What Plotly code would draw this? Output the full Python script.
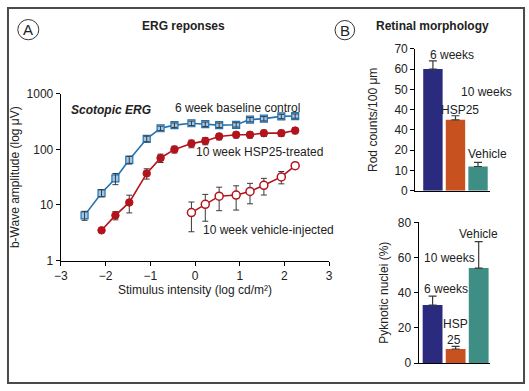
import plotly.graph_objects as go

W, H = 529, 391

# ---------- Panel A data (ERG responses) ----------
stim = [-2.47, -2.09, -1.78, -1.47, -1.08, -0.77, -0.46, -0.08, 0.23, 0.54, 0.92, 1.23, 1.54, 1.93, 2.24]
baseline = [6.5, 16.4, 30, 65, 155, 240, 273, 295, 284, 273, 277, 343, 357, 392, 398]
baseline_err = [1.2, 2.4, 6.8, 10.6, 17.5, 22, 25, 27, 26, 25, 25, 30, 32, 35, 35]
hsp_x = stim[1:]
hsp = [3.5, 6.5, 11.1, 37, 70, 100, 127, 142, 171, 183, 183, 196, 196, 218]
hsp_err = [0, 1.1, 3.9, 7.8, 12, 14, 20, 21, 23, 22, 23, 25, 25, 27]
veh_x = stim[7:]
vehicle = [7.3, 10.3, 14.4, 15.1, 17.5, 22.6, 32, 51]
vehicle_err = [4, 5.2, 6.5, 7, 7, 7.5, 8, 6]
x_ticks = [-3, -2, -1, 0, 1, 2, 3]
y_ticks = [1, 10, 100, 1000]
y_ticktext = ["1", "10", "100", "1000"]

# ---------- Panel B data (retinal morphology) ----------
groups = ["6 weeks", "HSP25", "Vehicle"]
rod_counts = [60, 35, 12]
rod_err = [4, 2, 2]
rod_ticks = [0, 10, 20, 30, 40, 50, 60, 70]
rod_ticktext = ["0", "10", "20", "40", "40", "50", "60", "70"]
pyknotic = [33, 8, 54]
pyk_err = [5, 1.5, 15]
pyk_ticks = [0, 20, 40, 60, 80]

bar_colors = ["#2a2a7e", "#c8521f", "#3f8e85"]
BLUE = "#2172b3"
BLUE_FILL = "#a3c6e4"
RED = "#b3141c"
ERR = "#3a3a3a"
FONT = "Liberation Sans, Arial, Helvetica, sans-serif"


def px(x):
    return x / W


def py(y):
    return 1 - y / H


fig = go.Figure()

# baseline control (blue squares)
fig.add_trace(go.Scatter(
    x=stim, y=baseline, mode="lines+markers",
    line=dict(color=BLUE, width=1.6),
    marker=dict(symbol="square", size=7, color=BLUE_FILL, line=dict(color=BLUE, width=1.2)),
    xaxis="x", yaxis="y", showlegend=False))
fig.add_trace(go.Scatter(
    x=stim, y=baseline, mode="markers",
    marker=dict(size=1, opacity=0),
    error_y=dict(type="data", array=baseline_err, color=ERR, thickness=1, width=3),
    xaxis="x", yaxis="y", showlegend=False))

# HSP25-treated (filled red circles)
fig.add_trace(go.Scatter(
    x=hsp_x, y=hsp, mode="lines+markers",
    line=dict(color=RED, width=1.6),
    marker=dict(symbol="circle", size=7.5, color=RED, line=dict(color=RED, width=1)),
    error_y=dict(type="data", array=hsp_err, color=ERR, thickness=1, width=3),
    xaxis="x", yaxis="y", showlegend=False))

# vehicle-injected (open red circles)
fig.add_trace(go.Scatter(
    x=veh_x, y=vehicle, mode="lines+markers",
    line=dict(color=RED, width=1.6),
    marker=dict(symbol="circle", size=8, color="white", line=dict(color=RED, width=1.5)),
    error_y=dict(type="data", array=vehicle_err, color=ERR, thickness=1, width=3),
    xaxis="x", yaxis="y", showlegend=False))

# Rod counts bars
fig.add_trace(go.Bar(
    x=groups, y=rod_counts, marker=dict(color=bar_colors, line=dict(width=0)),
    error_y=dict(type="data", symmetric=False, array=rod_err, arrayminus=[0, 0, 0],
                 color=ERR, thickness=1.2, width=4),
    xaxis="x2", yaxis="y2", showlegend=False))

# Pyknotic nuclei bars
fig.add_trace(go.Bar(
    x=groups, y=pyknotic, marker=dict(color=bar_colors, line=dict(width=0)),
    error_y=dict(type="data", symmetric=False, array=pyk_err, arrayminus=[0, 0, 0],
                 color=ERR, thickness=1.2, width=4),
    xaxis="x3", yaxis="y3", showlegend=False))

axis_common = dict(showline=True, linecolor="black", linewidth=1.3, ticks="outside",
                   ticklen=4, tickwidth=1, tickcolor="black", showgrid=False, zeroline=False,
                   tickfont=dict(size=12, color="#222", family=FONT))
xbar_common = dict(showline=True, linecolor="black", linewidth=1.3, ticks="",
                   showgrid=False, zeroline=False, showticklabels=False)

fig.update_layout(
    width=W, height=H, autosize=False,
    margin=dict(l=0, r=0, t=0, b=0),
    paper_bgcolor="white", plot_bgcolor="white",
    font=dict(family=FONT, size=12, color="#222"),
    bargap=0.14,
    xaxis=dict(domain=[px(55), px(329)], range=[-3, 3], tickvals=x_ticks,
               anchor="y",
               title=dict(text="Stimulus intensity (log cd/m²)", standoff=2,
                          font=dict(size=12)),
               **axis_common),
    yaxis=dict(domain=[py(263), py(90)], type="log", range=[0, 3], tickvals=y_ticks,
               ticktext=y_ticktext, anchor="x",
               title=dict(text="b-Wave amplitude (log μV)", standoff=4, font=dict(size=12)),
               **axis_common),
    xaxis2=dict(domain=[px(417), px(493)], range=[-0.78, 2.52], anchor="y2", **xbar_common),
    yaxis2=dict(domain=[py(190.7), py(43.3)], range=[0, 70], tickvals=rod_ticks,
                ticktext=rod_ticktext, anchor="x2",
                title=dict(text="Rod counts/100 μm", standoff=14, font=dict(size=12)),
                **axis_common),
    xaxis3=dict(domain=[px(420.5), px(493)], range=[-0.6, 2.48], anchor="y3", **xbar_common),
    yaxis3=dict(domain=[py(369.3), py(223.3)], range=[0, 80], tickvals=pyk_ticks,
                anchor="x3",
                title=dict(text="Pyknotic nuclei (%)", standoff=6, font=dict(size=12)),
                **axis_common),
)

annotations = [
    # titles
    dict(text="<b>ERG reponses</b>", x=px(180), y=py(20), xanchor="center", font=dict(size=12)),
    dict(text="<b>Retinal morphology</b>", x=px(375), y=py(20), xanchor="left", font=dict(size=12)),
    dict(text="A", x=px(21.7), y=py(23.5), xanchor="center", font=dict(size=15)),
    dict(text="B", x=px(345), y=py(24), xanchor="center", font=dict(size=15)),
    # panel A labels
    dict(text="<b><i>Scotopic ERG</i></b>", x=px(63), y=py(107), xanchor="left", font=dict(size=12)),
    dict(text="6 week baseline control", x=px(170), y=py(105), xanchor="left", font=dict(size=12)),
    dict(text="10 week HSP25-treated", x=px(191), y=py(150), xanchor="left", font=dict(size=12)),
    dict(text="10 week vehicle-injected", x=px(198), y=py(231), xanchor="left", font=dict(size=12)),
    # panel B top labels
    dict(text="6 weeks", x=px(454), y=py(50), xanchor="center", font=dict(size=12)),
    dict(text="10 weeks", x=px(490), y=py(88), xanchor="center", font=dict(size=12)),
    dict(text="HSP25", x=px(463), y=py(107), xanchor="center", font=dict(size=12)),
    dict(text="Vehicle", x=px(491), y=py(152), xanchor="center", font=dict(size=12)),
    # panel B bottom labels
    dict(text="Vehicle", x=px(482), y=py(235), xanchor="center", font=dict(size=12)),
    dict(text="10 weeks", x=px(452), y=py(260), xanchor="center", font=dict(size=12)),
    dict(text="6 weeks", x=px(448), y=py(292), xanchor="center", font=dict(size=12)),
    dict(text="HSP", x=px(458), y=py(329), xanchor="center", font=dict(size=12)),
    dict(text="25", x=px(457), y=py(345), xanchor="center", font=dict(size=12)),
]
for a in annotations:
    a.update(xref="paper", yref="paper", yanchor="middle", showarrow=False)
    a["font"]["family"] = FONT
    a["font"]["color"] = "#222"
fig.update_layout(annotations=annotations)

shapes = [
    dict(type="rect", xref="paper", yref="paper", x0=px(1), x1=px(528), y0=py(390), y1=py(1),
         line=dict(color="#4a4a4a", width=2)),
    dict(type="circle", xref="paper", yref="paper", x0=px(11), x1=px(32.5), y0=py(34), y1=py(13),
         line=dict(color="#333", width=1)),
    dict(type="circle", xref="paper", yref="paper", x0=px(335), x1=px(355), y0=py(34), y1=py(14),
         line=dict(color="#333", width=1)),
]
fig.update_layout(shapes=shapes)

fig.write_html("out.html", config={"displayModeBar": False},
               post_script="document.body.style.margin='0px';document.body.style.overflow='hidden';")
